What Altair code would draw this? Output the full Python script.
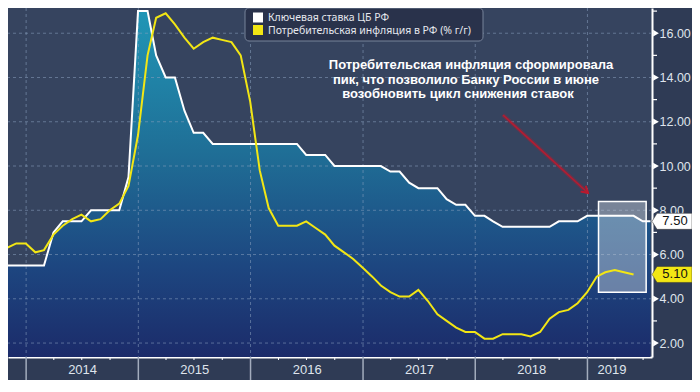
import altair as alt
import pandas as pd

# ---------------- data ----------------
series_names = ["Ключевая ставка ЦБ РФ", "Потребительская инфляция в РФ (% г/г)"]
series_colors = ["#ffffff", "#f2e614"]

# Key rate, month-end values from Sep 2013 to Jun 2019, plus last reading in July 2019
key_rate = [
    5.5, 5.5, 5.5, 5.5,
    5.5, 5.5, 7.0, 7.5, 7.5, 7.5, 8.0, 8.0, 8.0, 8.0, 9.5, 17.0,
    17.0, 15.0, 14.0, 14.0, 12.5, 11.5, 11.5, 11.0, 11.0, 11.0, 11.0, 11.0,
    11.0, 11.0, 11.0, 11.0, 11.0, 10.5, 10.5, 10.5, 10.0, 10.0, 10.0, 10.0,
    10.0, 10.0, 9.75, 9.75, 9.25, 9.0, 9.0, 9.0, 8.5, 8.25, 8.25, 7.75,
    7.75, 7.5, 7.25, 7.25, 7.25, 7.25, 7.25, 7.25, 7.5, 7.5, 7.5, 7.75,
    7.75, 7.75, 7.75, 7.75, 7.75, 7.5,
    7.5,
]
key_rate_last_date = "2019-07-25"

# CPI y/y, month-end values from Sep 2013 to May 2019
cpi = [
    6.1, 6.3, 6.5, 6.5,
    6.1, 6.2, 6.9, 7.3, 7.6, 7.8, 7.5, 7.6, 8.0, 8.3, 9.1, 11.4,
    15.0, 16.7, 16.9, 16.4, 15.8, 15.3, 15.6, 15.8, 15.7, 15.6, 15.0, 12.9,
    9.8, 8.1, 7.3, 7.3, 7.3, 7.5, 7.2, 6.9, 6.4, 6.1, 5.8, 5.4,
    5.0, 4.6, 4.3, 4.1, 4.1, 4.4, 3.9, 3.3, 3.0, 2.7, 2.5, 2.5,
    2.2, 2.2, 2.4, 2.4, 2.4, 2.3, 2.5, 3.1, 3.4, 3.5, 3.8, 4.3,
    5.0, 5.2, 5.3, 5.2, 5.1,
]

year_starts = ["2014-01-01", "2015-01-01", "2016-01-01", "2017-01-01", "2018-01-01", "2019-01-01"]
quarter_starts = [f"{y}-{m}-01" for y in range(2014, 2019) for m in ("04", "07", "10")] + ["2019-04-01", "2019-07-01"]
year_label_dates = [(2014, 7, 2), (2015, 7, 2), (2016, 7, 2), (2017, 7, 2), (2018, 7, 2), (2019, 3, 20)]
y_major = [2, 4, 6, 8, 10, 12, 14, 16]
y_minor = [3, 5, 7, 9, 11, 13, 15, 17]

box_dates = ["2019-02-06", "2019-07-11"]
box_values = [4.3, 8.4]

annotation_lines = [
    "Потребительская инфляция сформировала",
    "пик, что позволило Банку России в июне",
    "возобновить цикл снижения ставок",
]

# ---------------- tables ----------------
def month_ends(n):
    return [d.strftime("%Y-%m-%d") for d in pd.date_range("2013-09-30", periods=n, freq=pd.offsets.MonthEnd())]

rate_df = pd.DataFrame({"date": month_ends(len(key_rate) - 1) + [key_rate_last_date], "v": key_rate})
cpi_df = pd.DataFrame({"date": month_ends(len(cpi)), "v": cpi})
year_df = pd.DataFrame({"date": year_starts})
quarter_df = pd.DataFrame({"date": quarter_starts})
major_df = pd.DataFrame({"v": y_major})
minor_df = pd.DataFrame({"v": y_minor})
box_df = pd.DataFrame({"date": [box_dates[0]], "date2": [box_dates[1]], "v": [box_values[0]], "v2": [box_values[1]]})
tag_df = pd.DataFrame({"v": [key_rate[-1], cpi[-1]], "s": series_names})
one = pd.DataFrame({"a": [0]})

W, H = 644, 349

xscale = alt.Scale(type="utc", domain=[alt.DateTime(year=2013, month=11, date=3, utc=True),
                                       alt.DateTime(year=2019, month=7, date=30, utc=True)])
yscale = alt.Scale(domain=[1.37, 17.14], nice=False, zero=False)

x_axis = alt.Axis(
    values=[alt.DateTime(year=a, month=b, date=c, utc=True) for a, b, c in year_label_dates],
    format="%Y", title=None, ticks=False, grid=False, domainColor="#ffffff", domainWidth=2,
    labelFont="Liberation Sans", labelFontSize=13, labelColor="#dfe4ec", labelPadding=6,
)
y_axis = alt.Axis(
    orient="right", values=y_major, format=".2f", title=None, ticks=False, grid=False,
    domainColor="#ffffff", domainWidth=2, labelFont="Liberation Sans", labelFontSize=12.5,
    labelColor="#dfe4ec", labelPadding=7,
)

def X(field="date"):
    return alt.X(f"{field}:T", scale=xscale, axis=x_axis)

def Y(field="v"):
    return alt.Y(f"{field}:Q", scale=yscale, axis=y_axis)

color_scale = alt.Scale(domain=series_names, range=series_colors)

gradient = alt.Gradient(
    gradient="linear",
    stops=[
        alt.GradientStop(color="#2196b6", offset=0),
        alt.GradientStop(color="#1f6e96", offset=0.38),
        alt.GradientStop(color="#1d4680", offset=0.68),
        alt.GradientStop(color="#1b2262", offset=1),
    ],
    x1=1, x2=1, y1=0, y2=1,
)

area = alt.Chart(rate_df).mark_area(clip=True, color=gradient).encode(x=X(), y=Y())

hgrid = alt.Chart(major_df).mark_rule(color="#8aa0c0", opacity=0.55, strokeDash=[3, 3], strokeWidth=1).encode(y=Y())
vgrid = alt.Chart(year_df).mark_rule(color="#8aa0c0", opacity=0.55, strokeDash=[3, 3], strokeWidth=1).encode(x=X())

box = alt.Chart(box_df).mark_rect(fill="#c9d2de", fillOpacity=0.45, stroke="#ffffff", strokeWidth=1.5).encode(
    x=X("date"), x2="date2:T", y=Y("v"), y2="v2:Q")

rate_line = alt.Chart(rate_df).mark_line(clip=True, color=series_colors[0], strokeWidth=2).encode(x=X(), y=Y())
cpi_line = alt.Chart(cpi_df).mark_line(clip=True, color=series_colors[1], strokeWidth=2).encode(x=X(), y=Y())

separators = alt.Chart(year_df).mark_rule(color="#a3acbd", strokeWidth=1.5).encode(
    x=X(), y=alt.value(H), y2=alt.value(H + 23))
qticks = alt.Chart(quarter_df).mark_rule(color="#ffffff", strokeWidth=1).encode(
    x=X(), y=alt.value(H), y2=alt.value(H + 3))

minor_ticks = alt.Chart(minor_df).mark_rule(color="#ffffff", strokeWidth=1.2).encode(
    y=Y(), x=alt.value(W), x2=alt.value(W + 5))
major_ticks = alt.Chart(major_df).mark_point(shape="triangle-right", filled=True, color="#ffffff", size=45, opacity=1).encode(
    y=Y(), x=alt.value(W + 4))

# legend
legend_box = alt.Chart(one).mark_rect(fill="#29324b", stroke="#77839a", strokeWidth=1, cornerRadius=4).encode(
    x=alt.value(237), x2=alt.value(475), y=alt.value(0), y2=alt.value(33))
legend_items = []
for i, (name, col) in enumerate(zip(series_names, series_colors)):
    yy = 9.5 + 12.5 * i
    legend_items.append(alt.Chart(one).mark_square(size=100, color=col, opacity=1).encode(
        x=alt.value(250), y=alt.value(yy)))
    legend_items.append(alt.Chart(one).mark_text(
        text=name, align="left", baseline="middle", font="Noto Sans", fontSize=10.5, color="#e6e8ee").encode(
        x=alt.value(260), y=alt.value(yy + 0.5)))

# annotation
ann_pos = [(463, 57), (458, 72), (450, 86)]
ann_marks = [
    alt.Chart(one).mark_text(text=t, align="center", baseline="middle", font="Liberation Sans",
                             fontWeight="bold", fontSize=13, color="#ffffff").encode(
        x=alt.value(px), y=alt.value(py))
    for t, (px, py) in zip(annotation_lines, ann_pos)
]
arrow_glow = alt.Chart(one).mark_rule(color="#c0182c", strokeWidth=4, opacity=0.3).encode(
    x=alt.value(495), y=alt.value(107), x2=alt.value(580), y2=alt.value(185))
arrow = alt.Chart(one).mark_rule(color="#c0182c", strokeWidth=1.6, opacity=0.9).encode(
    x=alt.value(495), y=alt.value(107), x2=alt.value(580), y2=alt.value(185))
arrow_head = alt.Chart(one).mark_point(shape="M -1 -0.6 L 0 0 L -1 0.6", filled=False, color="#c0182c",
                                       strokeWidth=2, size=170, angle=42.5, opacity=0.95).encode(
    x=alt.value(580), y=alt.value(185))

# value tags at the right axis
tag_shape = "M -1 0 L -0.75 -0.4 L 1 -0.4 L 1 0.4 L -0.75 0.4 Z"
tags = alt.Chart(tag_df).mark_point(shape=tag_shape, filled=True, size=1600, opacity=1, stroke="#333333",
                                    strokeWidth=0.5).encode(
    y=Y(), x=alt.value(W + 20),
    fill=alt.Fill("s:N", scale=color_scale, legend=None))
tag_text = alt.Chart(tag_df).mark_text(align="center", baseline="middle", font="Liberation Sans",
                                       fontSize=13, color="#111111").encode(
    y=Y(), x=alt.value(W + 23), text=alt.Text("v:Q", format=".2f"))

chart = alt.layer(
    area, hgrid, vgrid, box, rate_line, cpi_line, separators, qticks, minor_ticks, major_ticks,
    legend_box, *legend_items, *ann_marks, arrow_glow, arrow, arrow_head, tags, tag_text,
).properties(
    width=W, height=H,
    autosize=alt.AutoSizeParams(type="none"),
    padding={"left": 0, "top": 0, "right": 40, "bottom": 23},
    background="#2f3b55",
).configure_view(fill="#36445f", stroke=None)

chart.save("out.html", embed_options={"renderer": "svg", "actions": False})
